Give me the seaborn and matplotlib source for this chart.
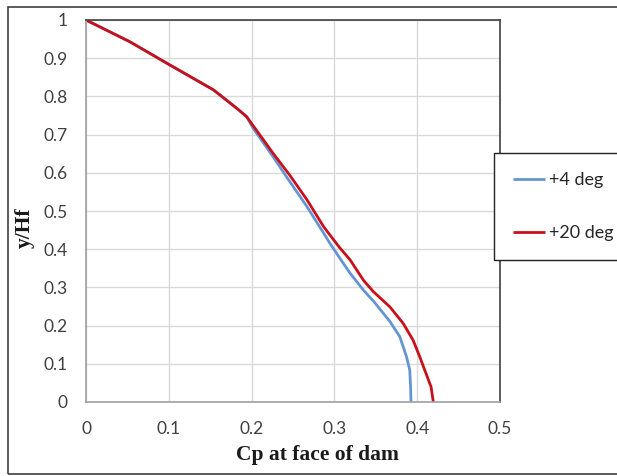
import matplotlib
matplotlib.use("Agg")
import matplotlib.pyplot as plt
import seaborn as sns
import pandas as pd
from matplotlib.patches import Rectangle

# Data (Cp at face of dam vs y/Hf)
cp_4deg = [0.0, 0.053, 0.1015, 0.154, 0.182, 0.194, 0.202, 0.226, 0.242, 0.267,
           0.287, 0.2947, 0.307, 0.319, 0.335, 0.348, 0.367, 0.379, 0.387, 0.391,
           0.392, 0.3925]
y_4deg = [1.0, 0.943, 0.882, 0.817, 0.769, 0.747, 0.716, 0.642, 0.590, 0.511,
          0.442, 0.415, 0.375, 0.337, 0.293, 0.262, 0.211, 0.171, 0.119, 0.084,
          0.040, 0.0]

cp_20deg = [0.0, 0.053, 0.1015, 0.154, 0.182, 0.194, 0.202, 0.226, 0.246, 0.267,
            0.287, 0.2947, 0.306, 0.319, 0.335, 0.347, 0.367, 0.383, 0.395, 0.403,
            0.409, 0.4167, 0.4195]
y_20deg = [1.0, 0.943, 0.882, 0.817, 0.769, 0.747, 0.723, 0.651, 0.594, 0.529,
           0.459, 0.437, 0.405, 0.372, 0.319, 0.289, 0.249, 0.206, 0.162, 0.119,
           0.084, 0.040, 0.0]

series_names = ["+4 deg", "+20 deg"]
x_ticks = [0, 0.1, 0.2, 0.3, 0.4, 0.5]
x_tick_labels = ["0", "0.1", "0.2", "0.3", "0.4", "0.5"]
y_ticks = [0, 0.1, 0.2, 0.3, 0.4, 0.5, 0.6, 0.7, 0.8, 0.9, 1.0]
y_tick_labels = ["0", "0.1", "0.2", "0.3", "0.4", "0.5", "0.6", "0.7", "0.8", "0.9", "1"]

sns.set_style("white")
plt.rcParams["font.family"] = ["Lato", "DejaVu Sans"]

fig = plt.figure(figsize=(6.17, 4.76), dpi=100)
ax = fig.add_axes([86 / 617, 1 - 402 / 476, (500 - 86) / 617, (402 - 20) / 476])

palette = {"+4 deg": "#6495D2", "+20 deg": "#C8101A"}
for name, xs, ys in [(series_names[0], cp_4deg, y_4deg), (series_names[1], cp_20deg, y_20deg)]:
    sub = pd.DataFrame({"Cp": xs, "y": ys})
    sns.lineplot(data=sub, x="Cp", y="y", sort=False, color=palette[name],
                 linewidth=2.0, ax=ax, label=name, solid_joinstyle="round",
                 solid_capstyle="butt")

ax.set_xlim(0, 0.5)
ax.set_ylim(0, 1.0)
ax.set_xticks(x_ticks)
ax.set_xticklabels(x_tick_labels)
ax.set_yticks(y_ticks)
ax.set_yticklabels(y_tick_labels)
ax.grid(True, color="#d9d9d9", linewidth=1.0)
ax.set_axisbelow(True)
ax.tick_params(axis="both", length=0, labelsize=12.5, colors="#404040")
ax.tick_params(axis="y", pad=13)
ax.tick_params(axis="x", pad=14)

for s in ["left", "bottom"]:
    ax.spines[s].set_color("#a0a0a0")
    ax.spines[s].set_linewidth(1.2)
for s in ["top", "right"]:
    ax.spines[s].set_color("#404040")
    ax.spines[s].set_linewidth(1.2)

ax.set_xlabel("Cp at face of dam", fontfamily="Liberation Serif", fontweight="bold", fontsize=15.5, color="#1a1a1a")
ax.set_ylabel("y/Hf", fontfamily="Liberation Serif", fontweight="bold", fontsize=15.5, color="#1a1a1a")
ax.xaxis.set_label_coords((317.5 - 86) / 414, (402 - 445) / 382)
ax.yaxis.set_label_coords((35 - 86) / 414, (402 - 228) / 382)

leg = ax.legend(loc="upper left", bbox_to_anchor=(494 / 617, 1 - 153 / 476),
                bbox_transform=fig.transFigure, borderaxespad=0, frameon=True,
                fancybox=False, shadow=False, fontsize=13, borderpad=1.05,
                labelspacing=2.05, handlelength=1.75, handletextpad=0.25)
leg.get_frame().set_edgecolor("#222222")
leg.get_frame().set_linewidth(1.0)
leg.get_frame().set_facecolor("white")
leg.get_frame().set_alpha(1.0)
for t in leg.get_texts():
    t.set_color("#262626")

# outer chart border
fig.patches.append(Rectangle((8 / 617, 2 / 476), 1.0, 1 - 9 / 476, transform=fig.transFigure,
                             fill=False, edgecolor="#404040", linewidth=1.2))

fig.savefig("out.png", dpi=100)
